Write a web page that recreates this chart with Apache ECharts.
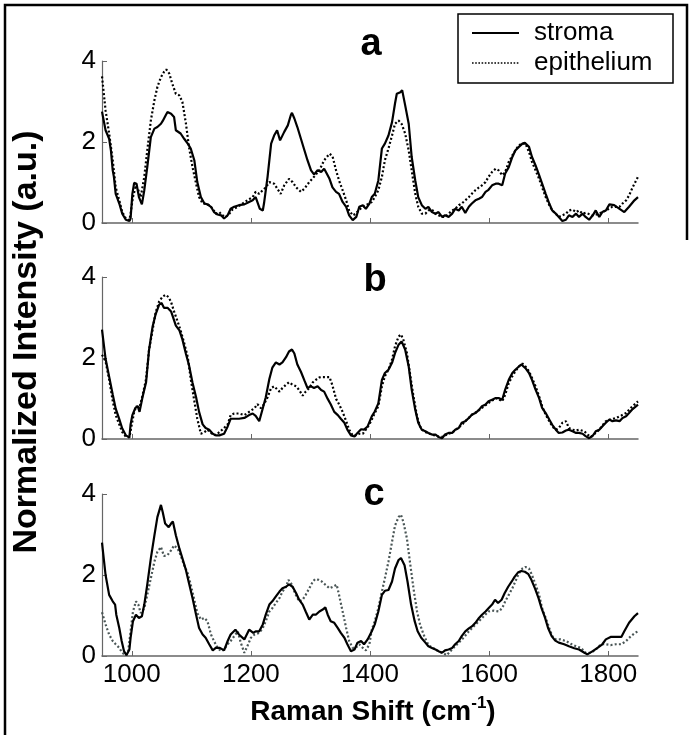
<!DOCTYPE html>
<html>
<head>
<meta charset="utf-8">
<script src="https://cdn.jsdelivr.net/npm/echarts@6/dist/echarts.min.js"></script>
<style>html,body{margin:0;padding:0;background:#fff}#c{width:692px;height:735px}</style>
</head>
<body>
<div id="c"></div>
<script>
// ---- data ----
const xTicks = [1000, 1200, 1400, 1600, 1800];
const yTicks = [0, 2, 4];
const panelLetters = ['a', 'b', 'c'];
const seriesNames = ['stroma', 'epithelium'];

const aStroma = [[950,2.75],[956,2.29],[962,2.08],[965,1.79],[968,1.30],[970,1.14],[973,0.72],[976,0.60],[979,0.48],[984,0.23],[990,0.08],[996,0.05],[998,0.11],[1001,0.72],[1004,0.99],[1008,0.97],[1012,0.64],[1017,0.46],[1021,0.81],[1026,1.38],[1032,2.12],[1038,2.33],[1043,2.37],[1049,2.45],[1052,2.52],[1057,2.66],[1060,2.74],[1066,2.70],[1071,2.62],[1074,2.29],[1082,2.21],[1088,2.08],[1094,1.96],[1099,1.84],[1105,1.55],[1110,1.01],[1116,0.64],[1122,0.48],[1127,0.46],[1133,0.40],[1138,0.27],[1144,0.21],[1150,0.19],[1155,0.11],[1161,0.19],[1166,0.35],[1172,0.40],[1180,0.44],[1189,0.46],[1197,0.52],[1203,0.56],[1208,0.64],[1211,0.60],[1215,0.35],[1220,0.31],[1222,0.48],[1228,1.14],[1234,1.96],[1239,2.16],[1244,2.29],[1249,2.04],[1252,2.00],[1256,2.25],[1262,2.41],[1267,2.66],[1269,2.72],[1273,2.58],[1278,2.37],[1284,2.08],[1290,1.79],[1295,1.55],[1301,1.30],[1306,1.20],[1312,1.30],[1318,1.26],[1323,1.34],[1326,1.26],[1332,1.09],[1337,0.88],[1343,0.77],[1348,0.72],[1354,0.52],[1360,0.40],[1365,0.19],[1371,0.07],[1374,0.05],[1377,0.15],[1382,0.40],[1388,0.44],[1393,0.35],[1399,0.48],[1403,0.64],[1408,0.72],[1414,1.05],[1420,1.84],[1425,1.96],[1431,2.16],[1437,2.49],[1442,2.95],[1445,3.19],[1451,3.23],[1454,3.28],[1459,2.91],[1465,2.45],[1470,1.63],[1476,1.05],[1481,0.64],[1487,0.44],[1493,0.35],[1498,0.40],[1504,0.27],[1510,0.23],[1515,0.27],[1521,0.15],[1526,0.19],[1532,0.15],[1538,0.23],[1543,0.35],[1549,0.31],[1554,0.40],[1560,0.25],[1566,0.40],[1571,0.48],[1577,0.56],[1583,0.60],[1588,0.64],[1594,0.77],[1599,0.82],[1605,0.93],[1611,0.97],[1616,0.97],[1622,0.93],[1627,1.22],[1633,1.38],[1639,1.63],[1644,1.79],[1650,1.88],[1656,1.96],[1660,1.98],[1667,1.88],[1672,1.63],[1678,1.42],[1684,1.18],[1689,0.97],[1695,0.72],[1701,0.48],[1706,0.31],[1712,0.23],[1717,0.15],[1723,0.05],[1729,0.08],[1734,0.19],[1740,0.15],[1746,0.23],[1751,0.15],[1757,0.23],[1762,0.15],[1768,0.08],[1774,0.19],[1779,0.31],[1785,0.15],[1790,0.27],[1796,0.31],[1802,0.46],[1810,0.44],[1819,0.35],[1827,0.27],[1835,0.40],[1844,0.56],[1850,0.64]];

const aEpi = [[950,3.62],[956,2.78],[962,2.21],[968,1.55],[973,0.88],[979,0.56],[984,0.27],[990,0.11],[996,0.07],[998,0.23],[1002,0.64],[1007,0.93],[1011,0.81],[1015,0.64],[1021,1.14],[1026,1.79],[1032,2.53],[1038,3.03],[1043,3.36],[1049,3.60],[1054,3.73],[1058,3.79],[1063,3.69],[1068,3.44],[1074,3.19],[1080,3.15],[1085,2.99],[1091,2.45],[1096,1.88],[1102,1.38],[1108,0.97],[1113,0.64],[1119,0.48],[1124,0.48],[1130,0.44],[1136,0.35],[1141,0.23],[1147,0.27],[1152,0.19],[1158,0.15],[1164,0.23],[1169,0.33],[1178,0.40],[1186,0.48],[1194,0.56],[1203,0.64],[1208,0.77],[1214,0.72],[1220,0.81],[1225,0.88],[1231,1.01],[1239,0.97],[1246,0.81],[1250,0.72],[1256,0.93],[1264,1.09],[1270,1.01],[1276,0.88],[1284,0.77],[1290,0.85],[1298,1.01],[1306,1.14],[1315,1.30],[1323,1.55],[1332,1.71],[1337,1.65],[1343,1.30],[1348,1.05],[1354,0.81],[1360,0.56],[1365,0.31],[1371,0.19],[1376,0.23],[1382,0.33],[1388,0.40],[1393,0.44],[1399,0.48],[1403,0.52],[1408,0.64],[1414,0.81],[1420,1.14],[1425,1.55],[1431,1.84],[1437,2.16],[1442,2.45],[1448,2.53],[1453,2.45],[1459,2.21],[1465,1.79],[1470,1.30],[1476,0.72],[1481,0.40],[1487,0.23],[1493,0.23],[1498,0.31],[1504,0.33],[1510,0.23],[1515,0.19],[1521,0.15],[1526,0.15],[1532,0.23],[1538,0.31],[1543,0.35],[1549,0.44],[1554,0.48],[1560,0.56],[1566,0.64],[1571,0.72],[1577,0.81],[1583,0.88],[1588,0.93],[1594,1.01],[1599,1.14],[1605,1.26],[1611,1.34],[1616,1.30],[1622,1.18],[1627,1.26],[1633,1.51],[1639,1.67],[1644,1.79],[1650,1.92],[1656,1.96],[1661,1.96],[1667,1.75],[1672,1.51],[1678,1.30],[1684,1.09],[1689,0.88],[1695,0.64],[1701,0.44],[1706,0.31],[1712,0.23],[1717,0.15],[1723,0.19],[1729,0.23],[1734,0.31],[1740,0.33],[1746,0.27],[1751,0.31],[1757,0.23],[1762,0.25],[1774,0.19],[1785,0.23],[1796,0.31],[1807,0.40],[1819,0.40],[1824,0.48],[1830,0.56],[1835,0.68],[1841,0.88],[1850,1.14]];

const bStroma = [[950,2.70],[956,1.98],[962,1.54],[968,1.10],[973,0.75],[979,0.49],[984,0.26],[990,0.09],[996,0.04],[998,0.36],[1001,0.59],[1006,0.77],[1010,0.81],[1013,0.67],[1018,1.03],[1024,1.40],[1029,2.20],[1035,2.78],[1040,3.08],[1046,3.32],[1050,3.36],[1054,3.24],[1060,3.24],[1066,3.15],[1069,3.18],[1074,2.80],[1080,2.68],[1085,2.46],[1091,2.10],[1096,1.83],[1102,1.39],[1108,1.03],[1113,0.67],[1119,0.36],[1124,0.27],[1130,0.23],[1136,0.13],[1141,0.09],[1147,0.09],[1155,0.13],[1161,0.31],[1166,0.50],[1172,0.50],[1180,0.50],[1189,0.52],[1197,0.59],[1203,0.63],[1208,0.57],[1214,0.44],[1220,0.76],[1225,1.03],[1231,1.48],[1236,1.76],[1242,1.89],[1248,1.84],[1253,1.89],[1259,2.02],[1264,2.16],[1269,2.21],[1273,2.11],[1278,1.84],[1284,1.66],[1290,1.44],[1295,1.26],[1301,1.30],[1306,1.26],[1312,1.30],[1318,1.21],[1323,1.17],[1329,0.99],[1334,0.86],[1340,0.67],[1346,0.59],[1351,0.50],[1357,0.40],[1362,0.23],[1368,0.09],[1374,0.06],[1379,0.15],[1385,0.24],[1390,0.23],[1396,0.31],[1403,0.56],[1408,0.68],[1414,0.88],[1420,1.46],[1425,1.63],[1431,1.71],[1437,1.88],[1442,2.12],[1448,2.33],[1453,2.41],[1459,2.21],[1465,1.79],[1470,1.22],[1476,0.72],[1481,0.40],[1487,0.23],[1493,0.19],[1498,0.15],[1504,0.11],[1510,0.11],[1515,0.05],[1521,0.02],[1526,0.11],[1532,0.15],[1538,0.15],[1543,0.23],[1549,0.27],[1554,0.40],[1560,0.44],[1566,0.52],[1571,0.60],[1577,0.64],[1583,0.72],[1588,0.81],[1594,0.85],[1599,0.93],[1605,0.97],[1611,1.01],[1616,1.01],[1622,0.97],[1627,1.22],[1633,1.46],[1639,1.63],[1644,1.71],[1650,1.79],[1654,1.84],[1661,1.75],[1667,1.63],[1672,1.46],[1678,1.22],[1684,1.01],[1689,0.77],[1695,0.64],[1701,0.48],[1706,0.35],[1712,0.23],[1717,0.15],[1723,0.16],[1729,0.21],[1734,0.23],[1740,0.19],[1746,0.15],[1751,0.15],[1757,0.13],[1762,0.07],[1768,0.02],[1774,0.08],[1779,0.19],[1785,0.23],[1790,0.31],[1796,0.40],[1802,0.48],[1807,0.44],[1813,0.46],[1819,0.44],[1824,0.52],[1830,0.56],[1835,0.64],[1841,0.74],[1850,0.85]];

const bEpi = [[950,2.08],[956,1.92],[962,1.47],[968,0.94],[973,0.59],[979,0.36],[984,0.17],[990,0.06],[996,0.04],[1000,0.36],[1004,0.67],[1008,0.81],[1012,0.72],[1018,1.07],[1024,1.48],[1029,2.20],[1035,2.70],[1040,3.12],[1046,3.40],[1052,3.52],[1057,3.56],[1062,3.50],[1066,3.38],[1071,3.15],[1077,2.90],[1082,2.68],[1088,2.37],[1094,2.02],[1099,1.48],[1105,0.94],[1110,0.50],[1116,0.13],[1122,0.17],[1127,0.23],[1133,0.15],[1138,0.09],[1144,0.13],[1152,0.23],[1161,0.36],[1166,0.59],[1172,0.63],[1180,0.63],[1189,0.59],[1197,0.67],[1206,0.76],[1211,0.86],[1217,0.76],[1222,0.86],[1228,1.03],[1234,1.26],[1239,1.30],[1248,1.17],[1253,1.26],[1259,1.34],[1264,1.40],[1270,1.34],[1276,1.30],[1281,1.21],[1287,1.07],[1292,1.17],[1298,1.26],[1304,1.40],[1309,1.46],[1315,1.52],[1320,1.53],[1326,1.53],[1332,1.53],[1337,1.32],[1343,0.99],[1348,0.86],[1354,0.67],[1360,0.44],[1365,0.23],[1371,0.09],[1376,0.09],[1382,0.13],[1388,0.13],[1393,0.23],[1399,0.36],[1403,0.48],[1408,0.64],[1414,0.81],[1420,1.30],[1425,1.55],[1431,1.71],[1437,1.96],[1442,2.29],[1448,2.53],[1452,2.58],[1456,2.45],[1462,2.12],[1467,1.63],[1473,1.05],[1479,0.56],[1484,0.31],[1490,0.19],[1496,0.15],[1504,0.11],[1512,0.07],[1521,0.05],[1529,0.11],[1538,0.16],[1546,0.25],[1554,0.35],[1563,0.48],[1571,0.60],[1580,0.68],[1588,0.77],[1597,0.87],[1605,0.95],[1613,1.01],[1622,0.93],[1627,1.09],[1633,1.38],[1639,1.55],[1644,1.67],[1650,1.79],[1656,1.86],[1661,1.79],[1667,1.67],[1672,1.51],[1678,1.30],[1684,1.05],[1689,0.81],[1695,0.60],[1701,0.44],[1706,0.31],[1712,0.23],[1717,0.27],[1723,0.40],[1729,0.44],[1734,0.27],[1740,0.23],[1746,0.21],[1751,0.23],[1760,0.19],[1765,0.11],[1771,0.05],[1779,0.15],[1785,0.23],[1790,0.33],[1796,0.44],[1804,0.48],[1813,0.52],[1822,0.58],[1830,0.64],[1838,0.77],[1844,0.85],[1850,0.93]];

const cStroma = [[950,2.80],[956,2.00],[962,1.51],[968,1.35],[972,1.27],[974,1.02],[979,0.69],[983,0.37],[987,0.12],[991,0.02],[996,0.16],[998,0.45],[1002,0.86],[1007,1.02],[1012,0.94],[1017,0.98],[1021,1.27],[1026,1.76],[1032,2.41],[1038,2.98],[1043,3.43],[1049,3.73],[1052,3.55],[1056,3.27],[1062,3.18],[1066,3.27],[1069,3.32],[1074,2.98],[1080,2.65],[1085,2.41],[1091,2.12],[1096,1.80],[1102,1.43],[1108,1.02],[1113,0.69],[1119,0.53],[1124,0.45],[1130,0.29],[1136,0.14],[1141,0.20],[1148,0.20],[1155,0.14],[1161,0.37],[1166,0.53],[1174,0.65],[1180,0.53],[1189,0.41],[1197,0.65],[1204,0.57],[1208,0.61],[1214,0.61],[1220,0.78],[1225,1.02],[1231,1.27],[1236,1.35],[1242,1.47],[1248,1.59],[1253,1.67],[1259,1.71],[1264,1.77],[1270,1.71],[1276,1.55],[1281,1.39],[1287,1.27],[1292,1.10],[1298,0.90],[1304,1.02],[1309,1.02],[1315,1.10],[1320,1.14],[1325,1.20],[1329,1.02],[1334,0.86],[1340,0.82],[1346,0.69],[1351,0.57],[1357,0.45],[1362,0.29],[1368,0.12],[1374,0.16],[1379,0.33],[1385,0.37],[1390,0.29],[1396,0.41],[1403,0.61],[1408,0.78],[1414,1.10],[1420,1.51],[1425,1.61],[1431,1.63],[1437,1.84],[1442,2.16],[1448,2.37],[1452,2.42],[1458,2.24],[1463,1.84],[1469,1.27],[1475,0.86],[1480,0.61],[1486,0.45],[1493,0.33],[1498,0.24],[1504,0.20],[1510,0.16],[1515,0.12],[1521,0.08],[1526,0.14],[1532,0.16],[1538,0.20],[1543,0.29],[1549,0.37],[1554,0.49],[1560,0.61],[1566,0.68],[1571,0.73],[1577,0.82],[1583,0.94],[1588,1.02],[1594,1.10],[1599,1.18],[1605,1.27],[1610,1.39],[1615,1.31],[1621,1.39],[1626,1.55],[1632,1.71],[1638,1.84],[1643,1.96],[1649,2.07],[1654,2.10],[1660,2.08],[1666,2.02],[1671,1.88],[1677,1.67],[1683,1.43],[1688,1.18],[1694,0.94],[1699,0.69],[1705,0.49],[1711,0.38],[1717,0.33],[1726,0.29],[1734,0.24],[1743,0.19],[1751,0.16],[1760,0.08],[1765,0.04],[1774,0.12],[1782,0.20],[1790,0.29],[1796,0.41],[1804,0.47],[1813,0.47],[1822,0.47],[1827,0.61],[1835,0.82],[1844,0.98],[1850,1.06]];

const cEpi = [[950,1.08],[956,0.78],[962,0.53],[968,0.37],[973,0.29],[979,0.20],[984,0.08],[990,0.02],[994,0.12],[998,0.61],[1002,1.10],[1007,1.35],[1011,1.27],[1015,1.06],[1021,1.18],[1026,1.51],[1032,1.92],[1038,2.33],[1043,2.57],[1049,2.69],[1054,2.47],[1060,2.49],[1066,2.61],[1071,2.73],[1077,2.65],[1082,2.49],[1088,2.24],[1094,2.04],[1099,1.76],[1105,1.39],[1110,1.06],[1116,0.90],[1122,0.94],[1127,0.86],[1133,0.53],[1138,0.37],[1144,0.20],[1150,0.12],[1155,0.16],[1161,0.29],[1166,0.37],[1172,0.49],[1178,0.61],[1183,0.33],[1189,0.08],[1194,0.24],[1200,0.45],[1206,0.53],[1214,0.57],[1220,0.69],[1225,0.86],[1231,1.10],[1236,1.18],[1242,1.31],[1248,1.43],[1253,1.59],[1259,1.71],[1263,1.88],[1269,1.76],[1274,1.55],[1281,1.35],[1287,1.39],[1292,1.51],[1298,1.67],[1304,1.84],[1308,1.90],[1314,1.88],[1319,1.84],[1325,1.76],[1332,1.67],[1338,1.71],[1344,1.76],[1348,1.51],[1354,1.10],[1360,0.69],[1365,0.37],[1371,0.20],[1376,0.20],[1382,0.29],[1388,0.20],[1393,0.14],[1399,0.29],[1403,0.65],[1408,0.86],[1414,1.18],[1420,1.59],[1425,1.92],[1431,2.33],[1437,2.82],[1442,3.22],[1448,3.43],[1452,3.49],[1456,3.31],[1462,2.90],[1467,2.33],[1473,1.67],[1479,1.10],[1484,0.78],[1490,0.53],[1496,0.33],[1501,0.24],[1507,0.19],[1512,0.14],[1521,0.08],[1529,0.02],[1535,0.12],[1540,0.20],[1549,0.33],[1557,0.45],[1566,0.61],[1574,0.73],[1583,0.86],[1591,0.98],[1599,1.10],[1608,1.12],[1616,1.10],[1622,1.18],[1627,1.35],[1633,1.51],[1639,1.67],[1644,1.84],[1650,2.04],[1656,2.16],[1661,2.20],[1667,2.16],[1672,2.00],[1678,1.76],[1684,1.51],[1689,1.18],[1695,0.94],[1701,0.69],[1706,0.49],[1712,0.41],[1720,0.41],[1729,0.37],[1737,0.30],[1746,0.24],[1754,0.20],[1762,0.08],[1771,0.08],[1779,0.16],[1788,0.29],[1796,0.29],[1804,0.27],[1813,0.29],[1822,0.29],[1830,0.37],[1838,0.49],[1845,0.57],[1850,0.61]];

const panels = [
  { letter: panelLetters[0], stroma: aStroma, epi: aEpi },
  { letter: panelLetters[1], stroma: bStroma, epi: bEpi },
  { letter: panelLetters[2], stroma: cStroma, epi: cEpi }
];

// ---- layout / style ----
const FONT = 'Liberation Sans, Arial, sans-serif';
const gridTops = [61, 277, 494];
const gridLeft = 102, gridW = 536, gridH = 162;
const axisColor = '#666';
const epiColors = ['#000', '#000', '#4a5656'];
const letterPos = [[371, 45], [375, 281], [374, 495]];

const chart = echarts.init(document.getElementById('c'), null, { renderer: 'canvas' });

const grid = [], xAxis = [], yAxis = [], series = [];
panels.forEach((p, i) => {
  grid.push({ left: gridLeft, top: gridTops[i], width: gridW, height: gridH, containLabel: false });
  xAxis.push({
    type: 'value', gridIndex: i, min: 950, max: 1850,
    axisLine: { show: true, lineStyle: { color: axisColor, width: 1.5 } },
    axisTick: { show: true, inside: true, length: 5, customValues: xTicks, lineStyle: { color: axisColor, width: 1 } },
    axisLabel: { show: i === 2, customValues: xTicks, fontFamily: FONT, fontSize: 26, color: '#000', margin: 6,
      formatter: v => String(v) },
    splitLine: { show: false }
  });
  yAxis.push({
    type: 'value', gridIndex: i, min: 0, max: 4, interval: 2,
    axisLine: { show: true, lineStyle: { color: axisColor, width: 1.2 } },
    axisTick: { show: true, inside: true, length: 5, lineStyle: { color: axisColor, width: 1 } },
    axisLabel: { show: true, fontFamily: FONT, fontSize: 26, color: '#000', margin: 6,
      formatter: v => (yTicks.indexOf(v) >= 0 ? String(v) : '') },
    splitLine: { show: false }
  });
  series.push({
    name: seriesNames[1], type: 'line', xAxisIndex: i, yAxisIndex: i, data: p.epi,
    showSymbol: false, symbol: 'none', smooth: false, z: 2,
    lineStyle: { color: epiColors[i], width: 2.2, type: [2, 2.2] }
  });
  series.push({
    name: seriesNames[0], type: 'line', xAxisIndex: i, yAxisIndex: i, data: p.stroma,
    showSymbol: false, symbol: 'none', smooth: false, z: 3,
    lineStyle: { color: '#000', width: 2.2, type: 'solid' }
  });
});

const graphic = [
  // outer frame
  { type: 'polyline', shape: { points: [[5, 735], [5, 5], [687, 5], [687, 240]] },
    style: { stroke: '#000', lineWidth: 2.5, fill: null }, silent: true },
  // legend
  { type: 'rect', shape: { x: 458, y: 14, width: 215, height: 69 },
    style: { stroke: '#000', lineWidth: 1.5, fill: '#fff' }, z: 10 },
  { type: 'line', shape: { x1: 472, y1: 33, x2: 519, y2: 33 },
    style: { stroke: '#000', lineWidth: 2 }, z: 11 },
  { type: 'line', shape: { x1: 472, y1: 63, x2: 520, y2: 63 },
    style: { stroke: '#000', lineWidth: 1.6, lineDash: [1.6, 1.6] }, z: 11 },
  { type: 'text', x: 534, y: 33, z: 11,
    style: { text: seriesNames[0], font: '26px ' + FONT, fill: '#000', align: 'left', verticalAlign: 'middle' } },
  { type: 'text', x: 534, y: 63, z: 11,
    style: { text: seriesNames[1], font: '26px ' + FONT, fill: '#000', align: 'left', verticalAlign: 'middle' } },
  // y axis title
  { type: 'text', x: 27, y: 342, rotation: Math.PI / 2,
    style: { text: 'Normalized Intensity (a.u.)', font: 'bold 34px ' + FONT, fill: '#000', align: 'center', verticalAlign: 'middle' } },
  // x axis title
  { type: 'text', x: 373, y: 712,
    style: { text: '{m|Raman Shift (cm}{s|-1}{m|)}', align: 'center', verticalAlign: 'middle',
      rich: {
        m: { font: 'bold 28px ' + FONT, fill: '#000', lineHeight: 34, verticalAlign: 'middle' },
        s: { font: 'bold 17px ' + FONT, fill: '#000', lineHeight: 17, verticalAlign: 'top' }
      } } }
];
panels.forEach((p, i) => {
  graphic.push({ type: 'text', x: letterPos[i][0], y: letterPos[i][1], z: 12,
    style: { text: p.letter, font: 'bold 38px ' + FONT, fill: '#000', align: 'center', verticalAlign: 'middle' } });
});

chart.setOption({
  animation: false,
  backgroundColor: '#fff',
  grid, xAxis, yAxis, series, graphic
});
</script>
</body>
</html>
